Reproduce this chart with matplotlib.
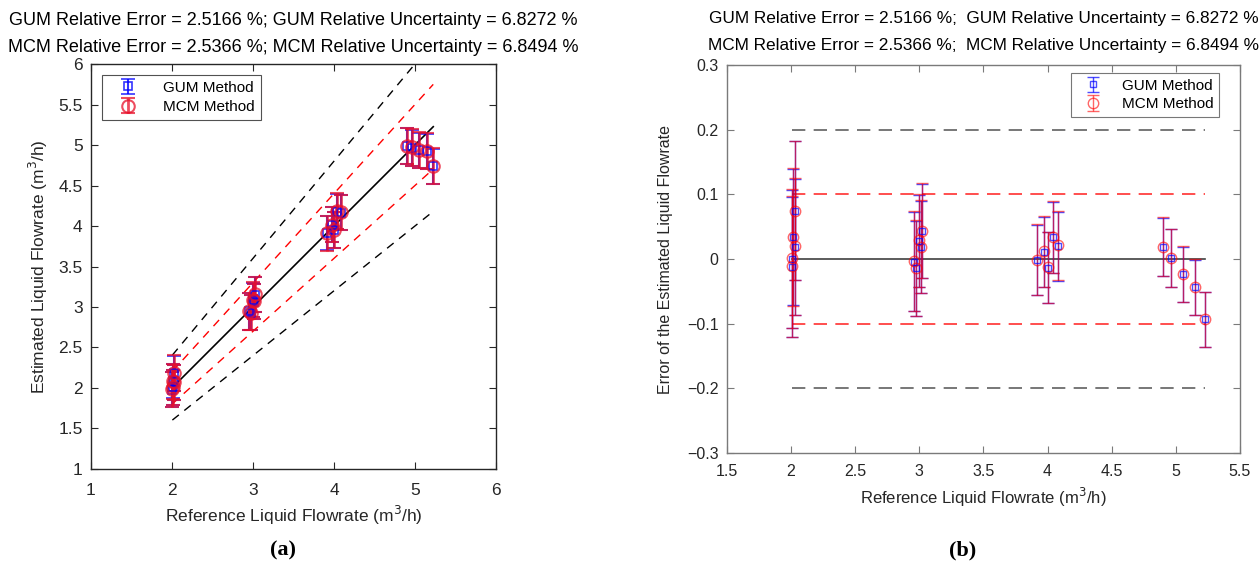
import numpy as np
import matplotlib
matplotlib.use("Agg")
import matplotlib.pyplot as plt

plt.rcParams['font.family'] = ['Liberation Sans', 'DejaVu Sans']
plt.rcParams['axes.unicode_minus'] = True

# ---------------- data ----------------
ref = [2.005, 2.007, 2.015, 2.03, 2.03,
       2.957, 2.973, 3.000, 3.012, 3.022,
       3.916, 3.970, 4.004, 4.043, 4.082,
       4.900, 4.960, 5.056, 5.148, 5.226]
gum_err = [-0.012, 0.000, 0.0335, 0.019, 0.0747,
           -0.004, -0.0145, 0.028, 0.018, 0.0433,
           -0.0015, 0.0113, -0.0134, 0.0335, 0.020,
           0.018, 0.0015, -0.0235, -0.044, -0.0935]
gum_unc = [0.108, 0.107, 0.105, 0.105, 0.1075,
           0.076, 0.073, 0.071, 0.071, 0.0725,
           0.054, 0.054, 0.055, 0.0546, 0.0533,
           0.045, 0.0445, 0.0425, 0.0425, 0.042]
mcm_err = [-0.011, 0.001, 0.034, 0.020, 0.0750,
           -0.003, -0.014, 0.029, 0.019, 0.0440,
           -0.001, 0.012, -0.013, 0.034, 0.021,
           0.019, 0.002, -0.023, -0.043, -0.093]
mcm_unc = [0.109, 0.108, 0.106, 0.106, 0.108,
           0.077, 0.074, 0.072, 0.072, 0.073,
           0.055, 0.055, 0.0555, 0.055, 0.054,
           0.0455, 0.045, 0.043, 0.043, 0.0425]

title_a = ["GUM Relative Error = 2.5166 %; GUM Relative Uncertainty = 6.8272 %",
           "MCM Relative Error = 2.5366 %; MCM Relative Uncertainty = 6.8494 %"]
title_b = ["GUM Relative Error = 2.5166 %;  GUM Relative Uncertainty = 6.8272 %",
           "MCM Relative Error = 2.5366 %;  MCM Relative Uncertainty = 6.8494 %"]

ref = np.array(ref)
gum_err = np.array(gum_err); gum_unc = np.array(gum_unc)
mcm_err = np.array(mcm_err); mcm_unc = np.array(mcm_unc)
gum_est = ref * (1 + gum_err); gum_abs = ref * gum_unc
mcm_est = ref * (1 + mcm_err); mcm_abs = ref * mcm_unc

fig = plt.figure(figsize=(12.6, 5.66), dpi=100)
axA = fig.add_axes([0.0722, 0.1714, 0.3214, 0.7155])
axB = fig.add_axes([0.577, 0.1996, 0.407, 0.6855])

def style(ax, col, fs, pad):
    for s in ax.spines.values():
        s.set_color(col)
        s.set_linewidth(1.0)
    ax.tick_params(direction='in', top=True, right=True, length=5,
                   colors=col, labelcolor='#262626', labelsize=fs, width=0.8)
    ax.tick_params(axis='x', pad=pad)
    ax.tick_params(axis='y', pad=6)

# ---------------- panel (a) ----------------
xl = np.array([ref.min(), ref.max()])
axA.plot(xl, xl * 1.2, '--', color='black', lw=1.0, dashes=(6, 5))
axA.plot(xl, xl * 0.8, '--', color='black', lw=1.0, dashes=(6, 5))
axA.plot(xl, xl * 1.1, '--', color='red', lw=1.0, dashes=(6, 5))
axA.plot(xl, xl * 0.9, '--', color='red', lw=1.0, dashes=(6, 5))
axA.plot(xl, xl, '-', color='black', lw=1.2)
axA.errorbar(ref, gum_est, yerr=gum_abs, fmt='s', color='blue', mfc='none',
             ms=6, capsize=5, lw=1.5, mew=1.2, alpha=0.8, label='GUM Method')
axA.errorbar(ref, mcm_est, yerr=mcm_abs, fmt='o', color='#e8102a', mfc='none',
             ms=9, capsize=5, lw=2.0, mew=1.5, alpha=0.75, label='MCM Method')
axA.set_xlim(1, 6); axA.set_ylim(1, 6)
axA.set_xticks([1, 2, 3, 4, 5, 6]); axA.set_yticks(np.arange(1, 6.01, 0.5))
axA.set_yticklabels(['1', '1.5', '2', '2.5', '3', '3.5', '4', '4.5', '5', '5.5', '6'])
style(axA, '#262626', 12.5, 10)
axA.set_xlabel('Reference Liquid Flowrate (m$^3$/h)', fontsize=12.5, color='#262626', labelpad=4)
axA.set_ylabel('Estimated Liquid Flowrate (m$^3$/h)', fontsize=12.5, color='#262626', labelpad=6)
legA = axA.legend(loc='upper left', fontsize=11, frameon=True, fancybox=False,
                  edgecolor='#262626', borderaxespad=0.7, handlelength=2.6,
                  handletextpad=1.0, borderpad=0.4, labelspacing=0.35)
legA.get_frame().set_linewidth(0.8)
axA.text(0.5, 1.108, title_a[0], transform=axA.transAxes, ha='center', va='center', fontsize=13)
axA.text(0.5, 1.04, title_a[1], transform=axA.transAxes, ha='center', va='center', fontsize=13)

# ---------------- panel (b) ----------------
axB.plot(xl, [0.2, 0.2], '--', color='#606060', lw=1.2, dashes=(8, 5))
axB.plot(xl, [-0.2, -0.2], '--', color='#606060', lw=1.2, dashes=(8, 5))
axB.plot(xl, [0.1, 0.1], '--', color='#ff3030', lw=1.2, dashes=(8, 5))
axB.plot(xl, [-0.1, -0.1], '--', color='#ff3030', lw=1.2, dashes=(8, 5))
axB.plot(xl, [0, 0], '-', color='#404040', lw=1.2)
axB.errorbar(ref, gum_err, yerr=gum_unc, fmt='s', color='blue', mfc='none',
             ms=5, capsize=4, lw=1.0, mew=1.0, alpha=0.7, label='GUM Method')
axB.errorbar(ref, mcm_err, yerr=mcm_unc, fmt='o', color='red', mfc='none',
             ms=7.5, capsize=4, lw=1.0, mew=1.0, alpha=0.6, label='MCM Method')
axB.set_xlim(1.5, 5.5); axB.set_ylim(-0.3, 0.3)
axB.set_xticks(np.arange(1.5, 5.51, 0.5))
axB.set_xticklabels(['1.5', '2', '2.5', '3', '3.5', '4', '4.5', '5', '5.5'])
axB.set_yticks(np.arange(-0.3, 0.301, 0.1))
axB.set_yticklabels(['\u22120.3', '\u22120.2', '\u22120.1', '0', '0.1', '0.2', '0.3'])
style(axB, '#7a7a7a', 11.5, 8)
axB.set_xlabel('Reference Liquid Flowrate (m$^3$/h)', fontsize=12, color='#262626', labelpad=5)
axB.set_ylabel('Error of the Estimated Liquid Flowrate', fontsize=11.5, color='#262626', labelpad=10)
legB = axB.legend(loc='upper right', fontsize=11, frameon=True, fancybox=False,
                  edgecolor='#555555', borderaxespad=0.5, handlelength=2.0,
                  handletextpad=0.9, borderpad=0.4, labelspacing=0.3,
                  bbox_to_anchor=(0.975, 1.0))
legB.get_frame().set_linewidth(0.8)
axB.text(0.5, 1.12, title_b[0], transform=axB.transAxes, ha='center', va='center', fontsize=12.4)
axB.text(0.5, 1.05, title_b[1], transform=axB.transAxes, ha='center', va='center', fontsize=12.4)

# panel letters
fig.text(283 / 1260, 1 - 550 / 566, '(a)', ha='center', va='center', fontsize=16,
         fontweight='bold', family=['Liberation Serif', 'DejaVu Serif'])
fig.text(963 / 1260, 1 - 550 / 566, '(b)', ha='center', va='center', fontsize=16,
         fontweight='bold', family=['Liberation Serif', 'DejaVu Serif'])

fig.savefig('out.png', dpi=100)
